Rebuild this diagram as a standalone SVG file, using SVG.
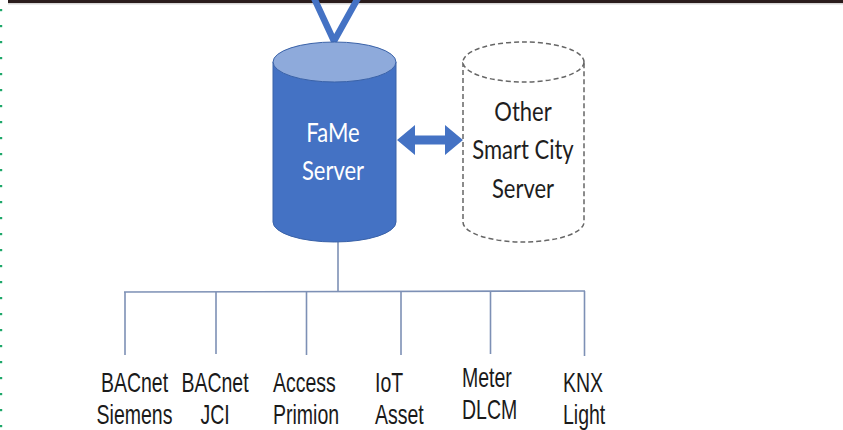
<svg xmlns="http://www.w3.org/2000/svg" width="843" height="430" viewBox="0 0 843 430">
<defs>
<style>
.lbl{font-family:"Liberation Sans",Arial,sans-serif;font-size:19.5px;fill:#1a1a1a}
.cal{font-family:Lato,"Open Sans",sans-serif;font-size:22px}
.tree{stroke:#7d90b5;stroke-width:1.6;fill:none}
.blue{stroke:#4472c4;fill:none}
.dot{fill:#1fa86b}
</style>
</defs>
<rect width="843" height="430" fill="#ffffff"/>
<rect x="8" y="0" width="835" height="3.2" fill="#2a1c1c"/>
<line x1="8" y1="4" x2="843" y2="4" stroke="#d8d8d8" stroke-width="1"/>
<g id="dots">
<rect class="dot" x="0" y="9" width="2.2" height="2.2"/>
<rect class="dot" x="0" y="25" width="2.2" height="2.2"/>
<rect class="dot" x="0" y="41" width="2.2" height="2.2"/>
<rect class="dot" x="0" y="57" width="2.2" height="2.2"/>
<rect class="dot" x="0" y="73" width="2.2" height="2.2"/>
<rect class="dot" x="0" y="89" width="2.2" height="2.2"/>
<rect class="dot" x="0" y="105" width="2.2" height="2.2"/>
<rect class="dot" x="0" y="121" width="2.2" height="2.2"/>
<rect class="dot" x="0" y="137" width="2.2" height="2.2"/>
<rect class="dot" x="0" y="153" width="2.2" height="2.2"/>
<rect class="dot" x="0" y="169" width="2.2" height="2.2"/>
<rect class="dot" x="0" y="185" width="2.2" height="2.2"/>
<rect class="dot" x="0" y="201" width="2.2" height="2.2"/>
<rect class="dot" x="0" y="217" width="2.2" height="2.2"/>
<rect class="dot" x="0" y="233" width="2.2" height="2.2"/>
<rect class="dot" x="0" y="249" width="2.2" height="2.2"/>
<rect class="dot" x="0" y="265" width="2.2" height="2.2"/>
<rect class="dot" x="0" y="281" width="2.2" height="2.2"/>
<rect class="dot" x="0" y="297" width="2.2" height="2.2"/>
<rect class="dot" x="0" y="313" width="2.2" height="2.2"/>
<rect class="dot" x="0" y="329" width="2.2" height="2.2"/>
<rect class="dot" x="0" y="345" width="2.2" height="2.2"/>
<rect class="dot" x="0" y="361" width="2.2" height="2.2"/>
<rect class="dot" x="0" y="377" width="2.2" height="2.2"/>
<rect class="dot" x="0" y="393" width="2.2" height="2.2"/>
<rect class="dot" x="0" y="409" width="2.2" height="2.2"/>
<rect class="dot" x="0" y="425" width="2.2" height="2.2"/>
</g>
<g id="connectors">
<polyline class="blue" stroke-width="6.5" points="314,-2 334,41 358,-2" stroke-linejoin="miter"/>
<polygon fill="#4472c4" points="397,140 415,125 415,135.5 445,135.5 445,125 463,140 445,155 445,144.5 415,144.5 415,155"/>
<line class="tree" x1="338" y1="242" x2="338" y2="292"/>
<line class="tree" x1="124" y1="292" x2="585" y2="291" stroke-width="2"/>
<line class="tree" x1="125" y1="292" x2="125" y2="355"/>
<line class="tree" x1="216" y1="292" x2="216" y2="354"/>
<line class="tree" x1="306.5" y1="292" x2="306.5" y2="355"/>
<line class="tree" x1="401" y1="292" x2="401" y2="355"/>
<line class="tree" x1="490.5" y1="292" x2="490.5" y2="354"/>
<line class="tree" x1="584.5" y1="291" x2="584.5" y2="356"/>
</g>
<g id="fame">
<path d="M273,62 L273,222 A61.5,20 0 0 0 396,222 L396,62 Z" fill="#4472c4" stroke="#3a62a8" stroke-width="1"/>
<ellipse cx="334.5" cy="62" rx="61.5" ry="20" fill="#8eaadb" stroke="#3a62a8" stroke-width="1"/>
<text class="cal" fill="#ffffff" text-anchor="middle" transform="translate(333,142) scale(1,1.25)">FaMe</text>
<text class="cal" fill="#ffffff" text-anchor="middle" transform="translate(333,180) scale(1,1.25)">Server</text>
</g>
<g id="other">
<path d="M463,62 L463,222 A60.5,20 0 0 0 584,222 L584,62" fill="#ffffff" stroke="#666" stroke-width="1.5" stroke-dasharray="5,3"/>
<ellipse cx="523.5" cy="62" rx="60.5" ry="20" fill="#ffffff" stroke="#666" stroke-width="1.5" stroke-dasharray="5,3"/>
<text class="cal" fill="#1e1e1e" text-anchor="middle" transform="translate(523,121) scale(1,1.25)">Other</text>
<text class="cal" fill="#1e1e1e" text-anchor="middle" transform="translate(523,159) scale(1,1.25)">Smart City</text>
<text class="cal" fill="#1e1e1e" text-anchor="middle" transform="translate(523,198) scale(1,1.25)">Server</text>
</g>
<g id="bacnet-siemens">
<text class="lbl" text-anchor="middle" transform="translate(134.5,392) scale(1,1.4)">BACnet</text>
<text class="lbl" text-anchor="middle" transform="translate(134.5,424) scale(1,1.4)">Siemens</text>
</g>
<g id="bacnet-jci">
<text class="lbl" text-anchor="middle" transform="translate(215,392) scale(1,1.4)">BACnet</text>
<text class="lbl" text-anchor="middle" transform="translate(215,424) scale(1,1.4)">JCI</text>
</g>
<g id="access-primion">
<text class="lbl" transform="translate(273,392) scale(1,1.4)">Access</text>
<text class="lbl" transform="translate(273,424) scale(1,1.4)">Primion</text>
</g>
<g id="iot-asset">
<text class="lbl" transform="translate(375,392) scale(1,1.4)">IoT</text>
<text class="lbl" transform="translate(375,424) scale(1,1.4)">Asset</text>
</g>
<g id="meter-dlcm">
<text class="lbl" transform="translate(462,387) scale(1,1.4)">Meter</text>
<text class="lbl" transform="translate(462,419) scale(1,1.4)">DLCM</text>
</g>
<g id="knx-light">
<text class="lbl" transform="translate(563,392) scale(1,1.4)">KNX</text>
<text class="lbl" transform="translate(563,424) scale(1,1.4)">Light</text>
</g>
</svg>
